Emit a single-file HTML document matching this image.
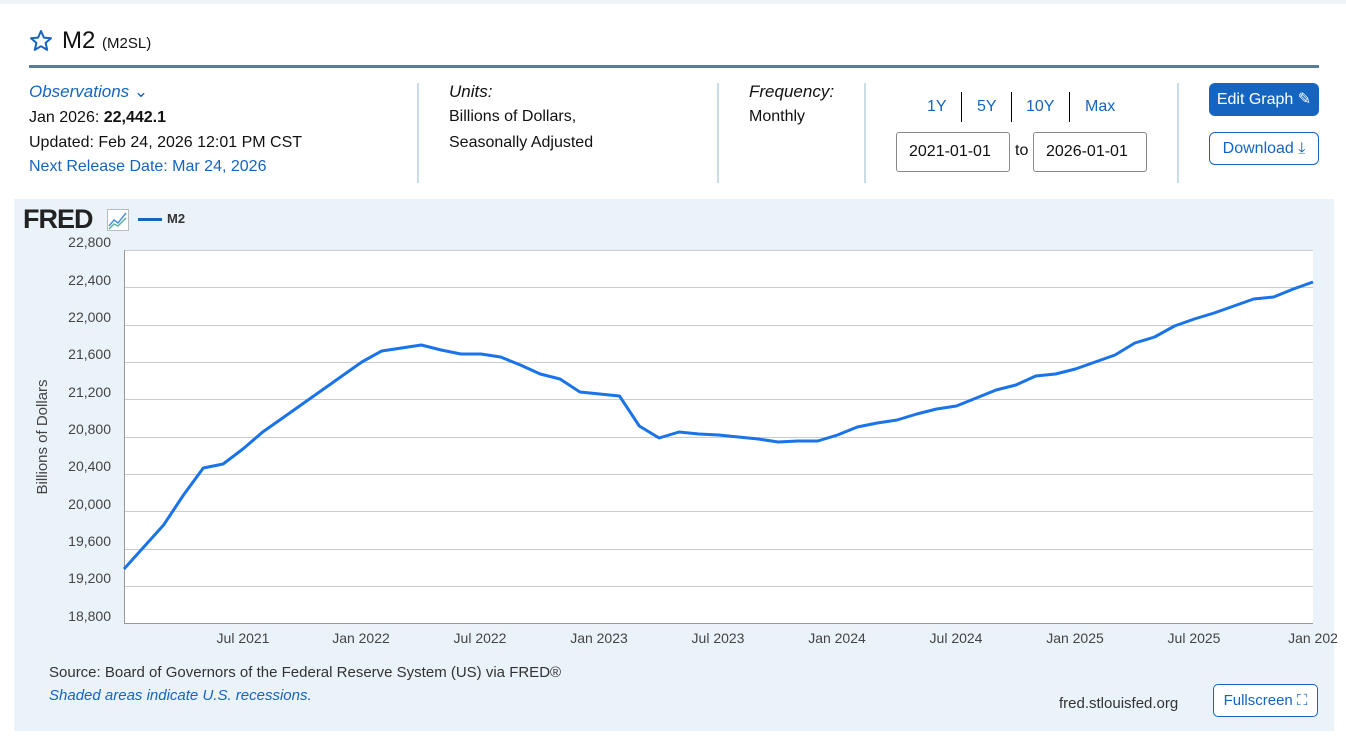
<!DOCTYPE html>
<html><head><meta charset="utf-8"><style>
body{margin:0;width:1346px;height:738px;background:#fff;font-family:"Liberation Sans",sans-serif;position:relative;overflow:hidden;color:#111}
.a{position:absolute;white-space:nowrap}
.blue{color:#1565c0}
.vl{position:absolute;width:2px;background:#c9dde6}
.inp{position:absolute;border:1px solid #888;border-radius:3px;height:38px;width:112px;font-size:16px;line-height:38px;text-indent:12px}
</style></head><body>
<div class="a" style="left:0;top:0;width:1346px;height:4px;background:#eef3f8"></div>
<svg class="a" style="left:29px;top:29px" width="24" height="24" viewBox="0 0 24 24"><path d="M12 2l2.9 6.6 7.1.6-5.4 4.7 1.6 7-6.2-3.7-6.2 3.7 1.6-7L2 9.2l7.1-.6z" fill="none" stroke="#1565c0" stroke-width="2" stroke-linejoin="round"/></svg>
<div class="a" style="left:62px;top:27px;font-size:24px">M2 <span style="font-size:15px">(M2SL)</span></div>
<div class="a" style="left:29px;top:65px;width:1290px;height:3px;background:#587d96"></div>
<div class="a blue" style="left:29px;top:82px;font-size:17px;font-style:italic">Observations <span style="font-style:normal">&#8964;</span></div>
<div class="a" style="left:29px;top:109px;font-size:16px">Jan 2026: <b>22,442.1</b></div>
<div class="a" style="left:29px;top:134px;font-size:16px">Updated: Feb 24, 2026 12:01 PM CST</div>
<div class="a blue" style="left:29px;top:158px;font-size:16px">Next Release Date: Mar 24, 2026</div>
<div class="vl" style="left:417px;top:83px;height:100px"></div>
<div class="a" style="left:449px;top:82px;font-size:17px;font-style:italic">Units:</div>
<div class="a" style="left:449px;top:108px;font-size:16px">Billions of Dollars,</div>
<div class="a" style="left:449px;top:134px;font-size:16px">Seasonally Adjusted</div>
<div class="vl" style="left:717px;top:83px;height:100px"></div>
<div class="a" style="left:749px;top:82px;font-size:17px;font-style:italic">Frequency:</div>
<div class="a" style="left:749px;top:108px;font-size:16px">Monthly</div>
<div class="vl" style="left:864px;top:83px;height:100px"></div>
<div class="a blue" style="left:927px;top:98px;font-size:16px">1Y</div>
<div class="a" style="left:961px;top:92px;width:1px;height:30px;background:#000"></div>
<div class="a blue" style="left:977px;top:98px;font-size:16px">5Y</div>
<div class="a" style="left:1011px;top:92px;width:1px;height:30px;background:#000"></div>
<div class="a blue" style="left:1026px;top:98px;font-size:16px">10Y</div>
<div class="a" style="left:1069px;top:92px;width:1px;height:30px;background:#000"></div>
<div class="a blue" style="left:1085px;top:98px;font-size:16px">Max</div>
<div class="inp" style="left:896px;top:132px">2021-01-01</div>
<div class="a" style="left:1015px;top:142px;font-size:16px">to</div>
<div class="inp" style="left:1033px;top:132px">2026-01-01</div>
<div class="vl" style="left:1177px;top:83px;height:100px"></div>
<div class="a" style="left:1209px;top:83px;width:110px;height:33px;background:#1565c0;border-radius:6px;color:#fff;font-size:16px;line-height:33px;text-align:center">Edit Graph &#9998;</div>
<div class="a blue" style="left:1209px;top:132px;width:108px;height:31px;border:1px solid #1565c0;border-radius:6px;font-size:16px;line-height:31px;text-align:center">Download &#10515;</div>
<div class="a" style="left:14px;top:199px;width:1320px;height:532px;background:#eaf2fa"></div>
<div class="a" style="left:23px;top:204px;font-size:27px;font-weight:900;letter-spacing:-1px;color:#222">FRED</div>
<svg class="a" style="left:107px;top:209px" width="22" height="22"><rect x="0.5" y="0.5" width="21" height="21" fill="#fff" stroke="#bbb"/><polyline points="2,17 7,11 11,14 19,4" fill="none" stroke="#4a90d9" stroke-width="1.5"/><polyline points="2,20 7,15 11,17 19,9" fill="none" stroke="#5cb39a" stroke-width="1.5"/></svg>
<div class="a" style="left:138px;top:218px;width:24px;height:3px;background:#1565c0"></div>
<div class="a" style="left:167px;top:211px;font-size:13px;font-weight:bold;color:#333">M2</div>
<svg class="a" style="left:0;top:0" width="1346" height="738">
<rect x="124" y="250" width="1189" height="373" fill="#fff"/>
<g stroke="#ccc" stroke-width="1">
<line x1="124" x2="1313" y1="250.5" y2="250.5"/><line x1="124" x2="1313" y1="287.5" y2="287.5"/><line x1="124" x2="1313" y1="325.5" y2="325.5"/><line x1="124" x2="1313" y1="362.5" y2="362.5"/><line x1="124" x2="1313" y1="399.5" y2="399.5"/><line x1="124" x2="1313" y1="437.5" y2="437.5"/><line x1="124" x2="1313" y1="474.5" y2="474.5"/><line x1="124" x2="1313" y1="511.5" y2="511.5"/><line x1="124" x2="1313" y1="549.5" y2="549.5"/><line x1="124" x2="1313" y1="586.5" y2="586.5"/>
</g>
<line x1="124" x2="1313" y1="623.5" y2="623.5" stroke="#999"/>
<line x1="124.5" x2="124.5" y1="250" y2="623" stroke="#999"/>
<g font-size="14" fill="#444" text-anchor="end" font-family="Liberation Sans,sans-serif">
<text x="111" y="247">22,800</text><text x="111" y="285">22,400</text><text x="111" y="322">22,000</text><text x="111" y="359">21,600</text><text x="111" y="397">21,200</text><text x="111" y="434">20,800</text><text x="111" y="471">20,400</text><text x="111" y="509">20,000</text><text x="111" y="546">19,600</text><text x="111" y="583">19,200</text><text x="111" y="621">18,800</text>
</g>
<g font-size="14" fill="#444" text-anchor="middle" font-family="Liberation Sans,sans-serif">
<text x="243" y="643">Jul 2021</text><text x="361" y="643">Jan 2022</text><text x="480" y="643">Jul 2022</text><text x="599" y="643">Jan 2023</text><text x="718" y="643">Jul 2023</text><text x="837" y="643">Jan 2024</text><text x="956" y="643">Jul 2024</text><text x="1075" y="643">Jan 2025</text><text x="1194" y="643">Jul 2025</text><text x="1313" y="643">Jan 202</text>
</g>
<text x="47" y="437" font-size="15" fill="#444" text-anchor="middle" transform="rotate(-90 47 437)" font-family="Liberation Sans,sans-serif">Billions of Dollars</text>
<polyline fill="none" stroke="#1a73e8" stroke-width="3" stroke-linejoin="round" points="124,569 143.8,547 163.6,525 183.5,495 203.3,468 223.1,464 242.9,449 262.7,432 282.6,418 302.4,404 322.2,390 342,376 361.8,362 381.7,351 401.5,348 421.3,345 441.1,350 460.9,354 480.8,354 500.6,357 520.4,365 540.2,374 560,379 579.9,392 599.7,394 619.5,396 639.3,426 659.1,438 679,432 698.8,434 718.6,435 738.4,437 758.2,439 778.1,442 797.9,441 817.7,441 837.5,435 857.3,427 877.2,423 897,420 916.8,414 936.6,409 956.4,406 976.3,398 996.1,390 1015.9,385 1035.7,376 1055.5,374 1075.4,369 1095.2,362 1115,355 1134.8,343 1154.6,337 1174.5,326 1194.3,319 1214.1,313 1233.9,306 1253.7,299 1273.6,297 1293.4,289 1313,282"/>
</svg>
<div class="a" style="left:49px;top:664px;font-size:15px;color:#333">Source: Board of Governors of the Federal Reserve System (US) via FRED®</div>
<div class="a blue" style="left:49px;top:687px;font-size:15px;font-style:italic">Shaded areas indicate U.S. recessions.</div>
<div class="a" style="left:1059px;top:695px;font-size:15px;color:#333">fred.stlouisfed.org</div>
<div class="a blue" style="left:1213px;top:684px;width:103px;height:31px;border:1px solid #1565c0;border-radius:5px;background:#fff;font-size:15px;line-height:31px;text-align:center">Fullscreen &#x26F6;</div>
</body></html>
